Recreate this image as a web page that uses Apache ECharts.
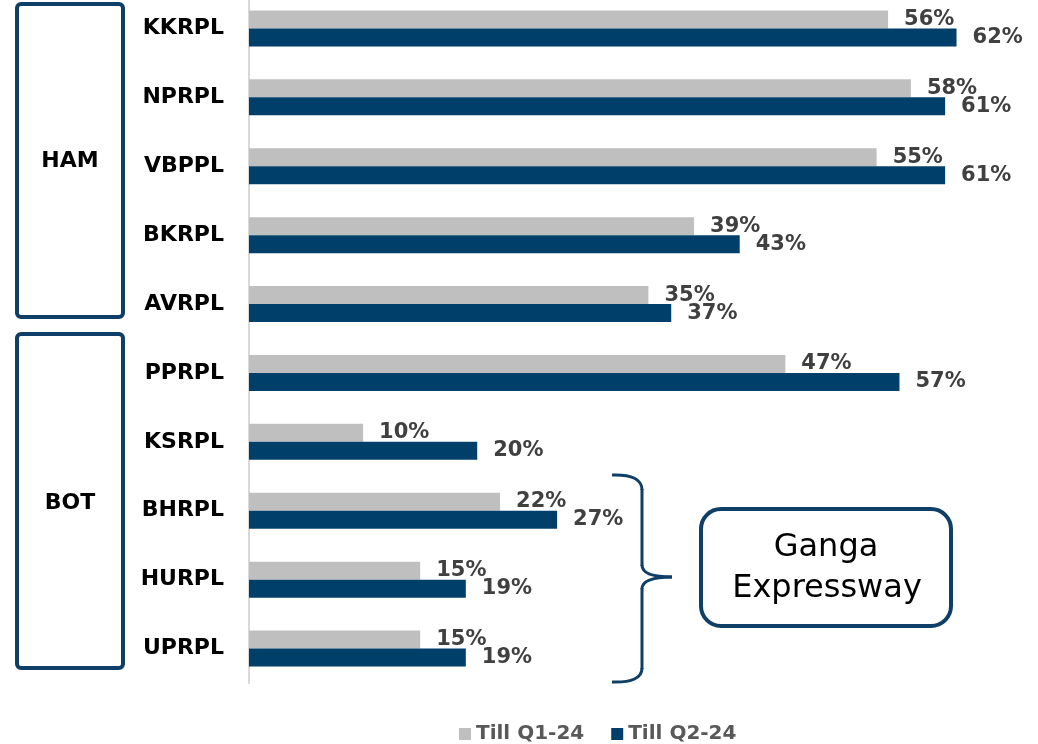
<!DOCTYPE html>
<html>
<head>
<meta charset="utf-8">
<script src="https://cdn.jsdelivr.net/npm/echarts@6/dist/echarts.min.js"></script>
<style>
  html, body { margin: 0; padding: 0; background: #fff; overflow: hidden; }
  /* shifted up a little: the first bar row sits above the page top in the original */
  #main { position: absolute; left: 0; top: -6px; width: 1038px; height: 750px; }
</style>
</head>
<body>
<div id="main"></div>
<script>
// data
var companies = ['KKRPL', 'NPRPL', 'VBPPL', 'BKRPL', 'AVRPL', 'PPRPL', 'KSRPL', 'BHRPL', 'HURPL', 'UPRPL'];
var tillQ1 = [56, 58, 55, 39, 35, 47, 10, 22, 15, 15];
var tillQ2 = [62, 61, 61, 43, 37, 57, 20, 27, 19, 19];
var seriesNames = ['Till Q1-24', 'Till Q2-24'];

var FONT = 'DejaVu Sans';
var NAVY = '#0f3f66';
var DY = 6; // container offset

var chart = echarts.init(document.getElementById('main'));

function barLabel() {
    return {
        show: true,
        position: 'right',
        distance: 16,
        formatter: '{c}%',
        color: '#404040',
        fontFamily: FONT,
        fontWeight: 'bold',
        fontSize: 21
    };
}

var braceStyle = { fill: 'none', stroke: NAVY, lineWidth: 3 };

var option = {
    backgroundColor: '#fff',
    animation: false,
    grid: { left: 249, right: 13, top: 0, bottom: 61 },
    legend: {
        data: seriesNames,
        top: 725,
        left: 454,
        icon: 'rect',
        itemWidth: 12,
        itemHeight: 12,
        itemGap: 27,
        textStyle: { color: '#595959', fontFamily: FONT, fontWeight: 'bold', fontSize: 20 }
    },
    xAxis: {
        type: 'value',
        min: 0,
        max: 68,
        show: false
    },
    yAxis: {
        type: 'category',
        data: companies,
        inverse: true,
        axisTick: { show: false },
        axisLine: { show: true, lineStyle: { color: '#d9d9d9', width: 2 } },
        axisLabel: { margin: 25, color: '#000', fontFamily: FONT, fontWeight: 'bold', fontSize: 22 }
    },
    series: [
        {
            name: seriesNames[0],
            type: 'bar',
            data: tillQ1,
            barWidth: 18,
            barGap: '0%',
            itemStyle: { color: '#bfbfbf' },
            label: barLabel()
        },
        {
            name: seriesNames[1],
            type: 'bar',
            data: tillQ2,
            barWidth: 18,
            barGap: '0%',
            itemStyle: { color: '#003f6a' },
            label: barLabel()
        }
    ],
    graphic: [
        // group boxes
        { type: 'rect', shape: { x: 17, y: 4 + DY, width: 106, height: 313, r: 4 },
          style: { fill: 'none', stroke: NAVY, lineWidth: 4 } },
        { type: 'text', x: 70, y: 161 + DY,
          style: { text: 'HAM', fill: '#000', font: 'bold 22px "DejaVu Sans"', align: 'center', verticalAlign: 'middle' } },
        { type: 'rect', shape: { x: 17, y: 334 + DY, width: 106, height: 334, r: 4 },
          style: { fill: 'none', stroke: NAVY, lineWidth: 4 } },
        { type: 'text', x: 70, y: 503 + DY,
          style: { text: 'BOT', fill: '#000', font: 'bold 22px "DejaVu Sans"', align: 'center', verticalAlign: 'middle' } },
        // brace
        { type: 'group', y: DY, children: [
            { type: 'bezierCurve', shape: { x1: 612, y1: 475, cpx1: 642, cpy1: 474, x2: 642, y2: 490 }, style: braceStyle },
            { type: 'line', shape: { x1: 642, y1: 489, x2: 642, y2: 566 }, style: braceStyle },
            { type: 'bezierCurve', shape: { x1: 642, y1: 565, cpx1: 642, cpy1: 577, x2: 672, y2: 577 }, style: braceStyle },
            { type: 'bezierCurve', shape: { x1: 672, y1: 577, cpx1: 642, cpy1: 577, x2: 642, y2: 589 }, style: braceStyle },
            { type: 'line', shape: { x1: 642, y1: 588, x2: 642, y2: 669 }, style: braceStyle },
            { type: 'bezierCurve', shape: { x1: 642, y1: 668, cpx1: 642, cpy1: 683, x2: 612, y2: 682 }, style: braceStyle }
        ] },
        // Ganga Expressway call-out
        { type: 'rect', shape: { x: 701, y: 509 + DY, width: 250, height: 117, r: 20 },
          style: { fill: '#fff', stroke: NAVY, lineWidth: 4 } },
        { type: 'text', x: 826, y: 548 + DY,
          style: { text: 'Ganga', fill: '#000', font: '32px "DejaVu Sans"', align: 'center', verticalAlign: 'middle' } },
        { type: 'text', x: 827, y: 589 + DY,
          style: { text: 'Expressway', fill: '#000', font: '32px "DejaVu Sans"', align: 'center', verticalAlign: 'middle' } }
    ]
};

chart.setOption(option);
</script>
</body>
</html>
